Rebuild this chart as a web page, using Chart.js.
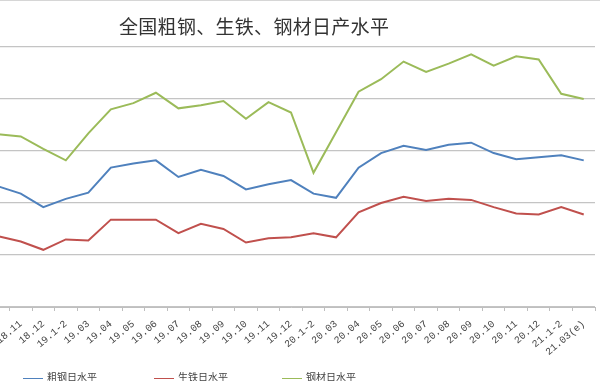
<!DOCTYPE html>
<html>
<head>
<meta charset="utf-8">
<script src="https://cdn.jsdelivr.net/npm/chart.js@4/dist/chart.umd.min.js"></script>
<style>
  html, body { margin:0; padding:0; width:600px; height:381px; overflow:hidden; background:#fff; }
  #wrap { position:absolute; left:-13px; top:0; width:613px; height:381px; }
  #title { position:absolute; left:119px; top:12px; font-family:"Noto Sans CJK SC", sans-serif; font-size:19px; color:#333; white-space:nowrap; letter-spacing:0.3px; }
  #legend { position:absolute; left:23px; top:369px; font-family:"Noto Sans CJK SC", serif; font-size:10px; color:#444; white-space:nowrap; }
  .item { position:absolute; top:0; line-height:16px; }
  .sw { display:inline-block; width:20px; height:0; border-top:1.5px solid; vertical-align:middle; margin-right:4px; }
  #topline { position:absolute; left:0; top:0; width:600px; height:0; border-top:1px solid #d6d6d6; }
</style>
</head>
<body>
<div id="topline"></div>
<div id="wrap"><canvas id="c"></canvas></div>
<div id="title">全国粗钢、生铁、钢材日产水平</div>
<div id="legend"></div>
<script>
const categories = ["18.10","18.11","18.12","19.1-2","19.03","19.04","19.05","19.06","19.07","19.08","19.09","19.10","19.11","19.12","20.1-2","20.03","20.04","20.05","20.06","20.07","20.08","20.09","20.10","20.11","20.12","21.1-2","21.03(e)"];
const crudeSteel = [266,259,246,254,260,284,288,291,275,282,276,263,268,272,259,255,284,298,305,301,306,308,298,292,294,296,291];
const pigIron    = [218,213,205,215,214,234,234,234,221,230,225,212,216,217,221,217,241,250,256,252,254,253,246,240,239,246,239];
const steelProducts = [316,314,302,291,317,340,346,356,341,344,348,331,347,337,279,318,357,369,386,376,384,393,382,391,388,355,350];
const seriesNames = ["粗钢日水平","生铁日水平","钢材日水平"];
const seriesColors = ["#4F81BD","#C0504D","#9BBB59"];

const legendEl = document.getElementById('legend');
const legendX = [0, 131, 259];
seriesNames.forEach((n,i)=>{
  const d = document.createElement('div');
  d.className = 'item';
  d.style.left = legendX[i] + 'px';
  d.innerHTML = '<span class="sw" style="border-color:'+seriesColors[i]+'"></span>' + n;
  legendEl.appendChild(d);
});

const data = [crudeSteel, pigIron, steelProducts];
new Chart(document.getElementById('c'), {
  type: 'line',
  data: {
    labels: categories,
    datasets: data.map((d,i)=>({
      label: seriesNames[i], data: d, borderColor: seriesColors[i], backgroundColor: seriesColors[i],
      borderWidth: 2, pointRadius: 0, tension: 0, fill: false
    }))
  },
  options: {
    responsive: true, maintainAspectRatio: false, animation: false,
    layout: { padding: { top: 47, right: 5, left: 0, bottom: 0 } },
    plugins: { legend: { display: false }, title: { display: false }, tooltip: { enabled: false } },
    scales: {
      x: {
        offset: true,
        grid: { display: true, drawOnChartArea: false, drawTicks: true, tickLength: 4, offset: true, color: '#bfbfbf' },
        border: { display: true, color: '#bfbfbf', width: 1 },
        ticks: { autoSkip: false, minRotation: 40, maxRotation: 40, padding: 7, color: '#444',
                 font: { family: '"Liberation Mono", "DejaVu Sans Mono", monospace', size: 10 } },
        afterFit: (s) => { s.paddingLeft = 0; s.paddingRight = 0; s.height = 74; }
      },
      y: {
        min: 150, max: 400,
        ticks: { display: false, stepSize: 50 },
        grid: { color: '#c4c4c4', lineWidth: 1.2, drawTicks: false },
        border: { display: false },
        afterFit: (s) => { s.width = 0; }
      }
    }
  }
});
</script>
</body>
</html>
